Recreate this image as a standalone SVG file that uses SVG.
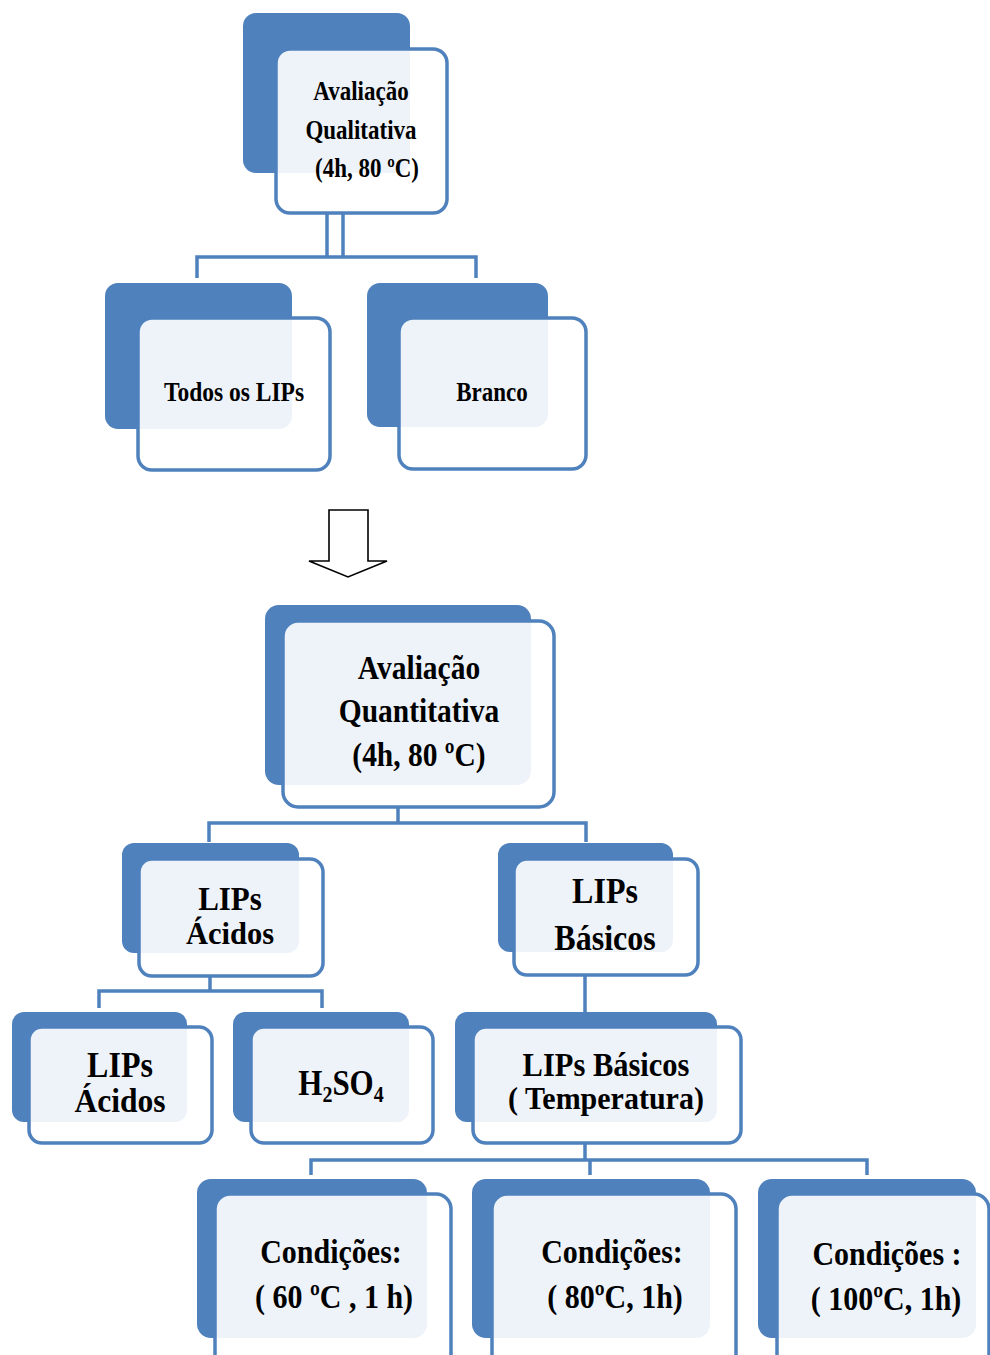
<svg xmlns="http://www.w3.org/2000/svg" width="990" height="1355" viewBox="0 0 990 1355">
<style>
.bk{fill:#4F81BD}
.fr{fill:#FFFFFF;fill-opacity:0.9;stroke:#4F81BD;stroke-width:3.5}
.cn{fill:none;stroke:#4F81BD;stroke-width:3.5}
.t{font-family:"Liberation Serif","Times New Roman",serif;font-weight:bold;fill:#000;text-anchor:middle}
</style>
<rect width="990" height="1355" fill="#FFFFFF"/>
<g id="connectors">
<path class="cn" d="M327 213V257M343 213V257M197 278V257H476V278"/>
<path class="cn" d="M398 808V823M209 842V823H586V842"/>
<path class="cn" d="M210 977V991M99 1008V991H322V1008"/>
<path class="cn" d="M585 975V1012"/>
<path class="cn" d="M585 1143V1160M311 1175V1160H867V1175M590 1160V1175"/>
</g>
<g id="arrow">
<polygon points="329,510 368,510 368,561 387,561 348,577 309,561 329,561" fill="#FFFFFF" stroke="#000" stroke-width="1.6"/>
</g>
<g id="n-qualitativa">
<rect class="bk" x="243" y="13" width="167" height="160" rx="13"/>
<rect class="fr" x="276" y="49" width="171" height="164" rx="14"/>
<text class="t" style="font-size:23px" transform="translate(361 100) scale(1 1.15)">Avaliação</text>
<text class="t" style="font-size:23px" transform="translate(361 139) scale(1 1.15)">Qualitativa</text>
<text class="t" style="font-size:23px" transform="translate(367 177) scale(1 1.15)">(4h, 80 ºC)</text>
</g>
<g id="n-todos">
<rect class="bk" x="105" y="283" width="187" height="146" rx="13"/>
<rect class="fr" x="138" y="318" width="192" height="152" rx="14"/>
<text class="t" style="font-size:23.5px" transform="translate(234 401) scale(1 1.15)">Todos os LIPs</text>
</g>
<g id="n-branco">
<rect class="bk" x="367" y="283" width="181" height="144" rx="13"/>
<rect class="fr" x="399" y="318" width="187" height="151" rx="14"/>
<text class="t" style="font-size:23px" transform="translate(492 401) scale(1 1.15)">Branco</text>
</g>
<g id="n-quantitativa">
<rect class="bk" x="265" y="605" width="266" height="180" rx="14"/>
<rect class="fr" x="283" y="621" width="271" height="186" rx="15"/>
<text class="t" style="font-size:29.5px" transform="translate(419 679) scale(1 1.15)">Avaliação</text>
<text class="t" style="font-size:29.5px" transform="translate(419 722) scale(1 1.15)">Quantitativa</text>
<text class="t" style="font-size:29.5px" transform="translate(419 766) scale(1 1.15)">(4h, 80 ºC)</text>
</g>
<g id="n-acidos">
<rect class="bk" x="122" y="843" width="177" height="110" rx="12"/>
<rect class="fr" x="139" y="859" width="184" height="117" rx="13"/>
<text class="t" style="font-size:31px" transform="translate(230 910) scale(1 1.12)">LIPs</text>
<text class="t" style="font-size:30.5px" transform="translate(230 944) scale(1 1.04)">Ácidos</text>
</g>
<g id="n-basicos">
<rect class="bk" x="498" y="843" width="175" height="109" rx="12"/>
<rect class="fr" x="514" y="859" width="184" height="116" rx="13"/>
<text class="t" style="font-size:32px" transform="translate(605 903) scale(1 1.15)">LIPs</text>
<text class="t" style="font-size:32px" transform="translate(605 950) scale(1 1.15)">Básicos</text>
</g>
<g id="n-acidos2">
<rect class="bk" x="12" y="1012" width="175" height="110" rx="12"/>
<rect class="fr" x="29" y="1027" width="183" height="116" rx="13"/>
<text class="t" style="font-size:32px" transform="translate(120 1077) scale(1 1.12)">LIPs</text>
<text class="t" style="font-size:31.5px" transform="translate(120 1112) scale(1 1.04)">Ácidos</text>
</g>
<g id="n-h2so4">
<rect class="bk" x="233" y="1012" width="176" height="110" rx="12"/>
<rect class="fr" x="251" y="1027" width="182" height="116" rx="13"/>
<text class="t" style="font-size:31px" transform="translate(341 1095) scale(1 1.15)">H<tspan style="font-size:20px" dy="6">2</tspan><tspan dy="-6">SO</tspan><tspan style="font-size:20px" dy="6">4</tspan></text>
</g>
<g id="n-temperatura">
<rect class="bk" x="455" y="1012" width="262" height="110" rx="12"/>
<rect class="fr" x="473" y="1027" width="268" height="116" rx="13"/>
<text class="t" style="font-size:30.5px" transform="translate(606 1076) scale(1 1.08)">LIPs Básicos</text>
<text class="t" style="font-size:30px" transform="translate(606 1109) scale(1 1.06)">( Temperatura)</text>
</g>
<g id="n-c60">
<rect class="bk" x="197" y="1179" width="230" height="159" rx="14"/>
<rect class="fr" x="215" y="1194" width="236" height="175" rx="15"/>
<text class="t" style="font-size:30px" transform="translate(331 1263) scale(1 1.15)">Condições:</text>
<text class="t" style="font-size:30px" transform="translate(334 1308) scale(1 1.15)">( 60 ºC , 1 h)</text>
</g>
<g id="n-c80">
<rect class="bk" x="472" y="1179" width="238" height="159" rx="14"/>
<rect class="fr" x="492" y="1194" width="244" height="175" rx="15"/>
<text class="t" style="font-size:30px" transform="translate(612 1263) scale(1 1.15)">Condições:</text>
<text class="t" style="font-size:30px" transform="translate(615 1308) scale(1 1.15)">( 80ºC, 1h)</text>
</g>
<g id="n-c100">
<rect class="bk" x="758" y="1179" width="218" height="159" rx="14"/>
<rect class="fr" x="777" y="1194" width="212" height="175" rx="15"/>
<text class="t" style="font-size:30px" transform="translate(887 1265) scale(1 1.15)">Condições :</text>
<text class="t" style="font-size:30px" transform="translate(886 1310) scale(1 1.15)">( 100ºC, 1h)</text>
</g>
</svg>
